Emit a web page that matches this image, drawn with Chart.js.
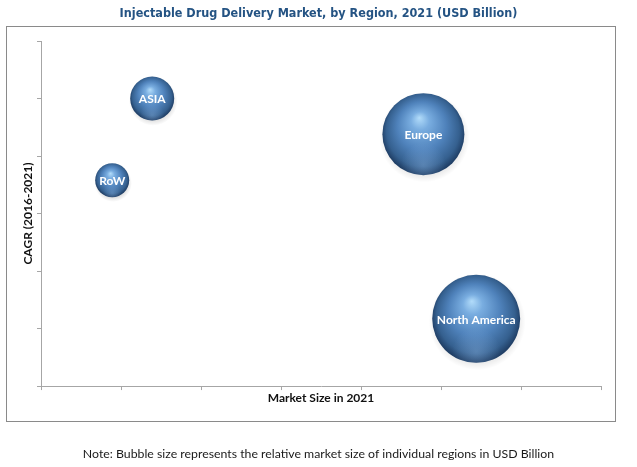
<!DOCTYPE html>
<html>
<head>
<meta charset="utf-8">
<script src="https://cdn.jsdelivr.net/npm/chart.js@4/dist/chart.umd.min.js"></script>
<style>
  html, body { margin: 0; padding: 0; background: #ffffff; }
  #wrap { position: relative; width: 637px; height: 467px; }
</style>
</head>
<body>
<div id="wrap"><canvas id="c" width="637" height="467"></canvas></div>
<script>
// ---- data ----
const regions = ["ASIA", "RoW", "Europe", "North America"];
const marketSize = [1.39, 0.89, 4.78, 5.44];   // x (relative position on Market Size axis)
const cagr = [5.0, 3.58, 4.38, 1.17];          // y (relative position on CAGR axis)
const bubbleSize = [22, 17, 41, 44];           // relative bubble size

const titleText = "Injectable Drug Delivery Market, by Region, 2021 (USD Billion)";
const noteText = "Note: Bubble size represents the relative market size of individual regions in USD Billion";
const xTitle = "Market Size in 2021";
const yTitle = "CAGR (2016-2021)";

const points = regions.map((r, i) => ({ x: marketSize[i], y: cagr[i], r: bubbleSize[i], label: r }));

function sphereFill(ctx) {
  const chart = ctx.chart;
  const raw = ctx.raw;
  if (!raw || !chart.scales || !chart.scales.x || !chart.scales.y) return '#4f82bb';
  const px = chart.scales.x.getPixelForValue(raw.x);
  const py = chart.scales.y.getPixelForValue(raw.y);
  const r = raw.r;
  if (!isFinite(px) || !isFinite(py) || !isFinite(r)) return '#4f82bb';
  const c = chart.ctx;
  const g = c.createRadialGradient(px - r * 0.1, py - r * 0.4, 0, px, py - r * 0.05, r * 1.02);
  g.addColorStop(0, '#b2dcfa');
  g.addColorStop(0.22, '#79ade0');
  g.addColorStop(0.58, '#4f82bb');
  g.addColorStop(0.87, '#35608f');
  g.addColorStop(1, '#203f66');
  return g;
}

const borderBox = {
  id: 'borderBox',
  beforeDraw(chart) {
    const c = chart.ctx;
    c.save();
    c.fillStyle = '#ffffff';
    c.fillRect(0, 0, chart.width, chart.height);
    c.strokeStyle = '#8a8a8a';
    c.lineWidth = 1;
    c.strokeRect(6.5, 26.5, 609, 395);
    c.restore();
  }
};

const bubbleShadow = {
  id: 'bubbleShadow',
  beforeDatasetsDraw(chart) {
    const c = chart.ctx;
    const meta = chart.getDatasetMeta(0);
    c.save();
    meta.data.forEach((el, i) => {
      const r = bubbleSize[i];
      const g = c.createRadialGradient(el.x + 1, el.y + 3, r * 0.8, el.x + 1, el.y + 3, r * 1.1);
      g.addColorStop(0, 'rgba(0,0,0,0.14)');
      g.addColorStop(1, 'rgba(0,0,0,0)');
      c.fillStyle = g;
      c.beginPath();
      c.arc(el.x + 1, el.y + 3, r * 1.1, 0, Math.PI * 2);
      c.fill();
    });
    c.restore();
  }
};

const bubbleRim = {
  id: 'bubbleRim',
  afterDatasetsDraw(chart) {
    const c = chart.ctx;
    const meta = chart.getDatasetMeta(0);
    c.save();
    meta.data.forEach((el, i) => {
      const r = bubbleSize[i];
      // soft light reflection near the bottom of each sphere
      const g = c.createRadialGradient(el.x, el.y + r * 0.75, 0, el.x, el.y + r * 0.75, r * 0.55);
      g.addColorStop(0, 'rgba(150,190,235,0.35)');
      g.addColorStop(1, 'rgba(150,190,235,0)');
      c.beginPath();
      c.arc(el.x, el.y, r, 0, Math.PI * 2);
      c.clip();
      c.fillStyle = g;
      c.fillRect(el.x - r, el.y - r, 2 * r, 2 * r);
      c.restore();
      c.save();
    });
    c.font = 'bold 12px Lato, "Open Sans", sans-serif';
    c.fillStyle = '#ffffff';
    c.textAlign = 'center';
    c.textBaseline = 'middle';
    meta.data.forEach((el, i) => {
      c.fillText(regions[i], el.x, el.y + 1);
    });
    c.restore();
  }
};

const chart = new Chart(document.getElementById('c'), {
  type: 'bubble',
  data: {
    datasets: [{
      label: 'Regions',
      data: points,
      backgroundColor: sphereFill,
      hoverBackgroundColor: sphereFill,
      borderWidth: 0,
      hoverBorderWidth: 0
    }]
  },
  plugins: [borderBox, bubbleShadow, bubbleRim],
  options: {
    responsive: false,
    animation: false,
    events: [],
    layout: { padding: { left: 0, right: 0, top: 0, bottom: 0 } },
    plugins: {
      legend: { display: false },
      tooltip: { enabled: false },
      title: {
        display: true,
        text: titleText,
        color: '#245383',
        font: { family: '"Liberation Sans Narrow", "DejaVu Sans Condensed", "Roboto Condensed", sans-serif', size: 12.5, weight: 'bold', lineHeight: 1.2 },
        padding: { top: 6, bottom: 20 }
      },
      subtitle: {
        display: true,
        position: 'bottom',
        text: noteText,
        color: '#1a1a1a',
        font: { family: 'Lato, "Open Sans", sans-serif', size: 12.3, weight: 'normal', lineHeight: 1.1 },
        padding: { top: 22, bottom: 6 }
      }
    },
    scales: {
      x: {
        type: 'linear',
        min: 0, max: 7,
        ticks: { display: false, stepSize: 1 },
        grid: { drawOnChartArea: false, drawTicks: true, tickLength: 4, color: '#a6a6a6' },
        border: { display: true, color: '#a6a6a6', width: 1 },
        title: {
          display: true,
          text: xTitle,
          color: '#111111',
          font: { family: 'Lato, "Open Sans", sans-serif', size: 12, weight: 'bold', lineHeight: 1.2 },
          padding: { top: 1, bottom: 20 }
        }
      },
      y: {
        type: 'linear',
        min: 0, max: 6,
        ticks: { display: false, stepSize: 1 },
        grid: { drawOnChartArea: false, drawTicks: true, tickLength: 4, color: '#a6a6a6' },
        border: { display: true, color: '#a6a6a6', width: 1 },
        title: {
          display: true,
          text: yTitle,
          color: '#111111',
          font: { family: 'Lato, "Open Sans", sans-serif', size: 12, weight: 'bold', lineHeight: 1.2 },
          padding: { top: 21, bottom: 1.6 }
        }
      },
      rightSpace: {
        type: 'linear',
        position: 'right',
        display: true,
        min: 0, max: 1,
        ticks: { display: false },
        grid: { display: false, drawTicks: false },
        border: { display: false },
        title: { display: false },
        afterFit(scale) { scale.width = 36; }
      }
    }
  }
});
// keep the plot area where the reference has it (no automatic bubble overflow padding)
chart.getDatasetMeta(0).controller.getMaxOverflow = () => 0;
chart.update();
</script>
</body>
</html>
